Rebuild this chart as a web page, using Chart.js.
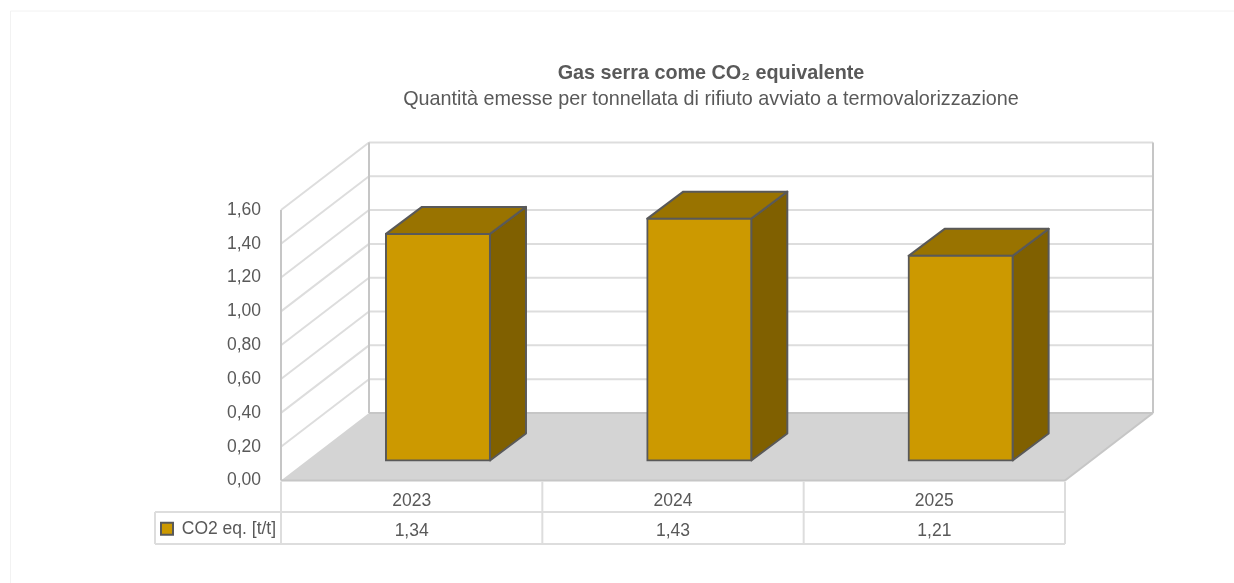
<!DOCTYPE html>
<html>
<head>
<meta charset="utf-8">
<title>Gas serra come CO2 equivalente</title>
<script src="https://cdn.jsdelivr.net/npm/chart.js@4"></script>
<style>
  html, body { margin: 0; padding: 0; background: #fff; }
  canvas { display: block; }
</style>
</head>
<body>
<canvas id="chart" width="1234" height="583"></canvas>
<script>
const years = ['2023', '2024', '2025'];
const co2Values = [1.34, 1.43, 1.21];
const seriesName = 'CO2 eq. [t/t]';
const titleText = 'Gas serra come CO₂ equivalente';
const subtitleText = 'Quantità emesse per tonnellata di rifiuto avviato a termovalorizzazione';

const TEXT = '#595959';
const GRID = '#dddddd';
const EDGE = '#c6c6c6';
const FONT = '"Liberation Sans", Arial, sans-serif';

// oblique offsets of the fake 3D box
const wallDX = 88, wallDY = -67.5;
const barShiftX = 26.3, barShiftY = -20;
const barDX = 36, barDY = -27;

const comma = (v) => v.toFixed(2).replace('.', ',');

function line(ctx, x1, y1, x2, y2, color, width) {
    ctx.beginPath();
    ctx.moveTo(x1, y1);
    ctx.lineTo(x2, y2);
    ctx.strokeStyle = color;
    ctx.lineWidth = width;
    ctx.stroke();
}

function face(ctx, pts, fill) {
    ctx.beginPath();
    pts.forEach((p, i) => (i ? ctx.lineTo(p[0], p[1]) : ctx.moveTo(p[0], p[1])));
    ctx.closePath();
    ctx.fillStyle = fill;
    ctx.fill();
    ctx.strokeStyle = TEXT;
    ctx.lineWidth = 2;
    ctx.lineJoin = 'round';
    ctx.stroke();
}

const box3d = {
    id: 'box3d',
    afterLayout(chart) {
        // titles sit over the whole 3D box, not over the canvas centre
        chart.boxes.forEach((b) => {
            if (b.options && b.options.text && b.isHorizontal()) {
                b.left = 711 - 617;
                b.right = 711 + 617;
            }
        });
        chart.legend.left = 154;
        chart.legend.right = 300;
        chart.legend.top = 513;
        chart.legend.bottom = 544;
    },
    beforeDatasetsDraw(chart) {
        const { ctx, chartArea: a, scales: { y } } = chart;
        ctx.save();
        // frame
        line(ctx, 10.5, 11, 1234, 11, '#f2f2f2', 1);
        line(ctx, 10.5, 11, 10.5, 583, '#f2f2f2', 1);
        // gridlines on the back wall and the side wall
        y.ticks.forEach((t) => {
            const py = y.getPixelForValue(t.value);
            if (t.value > 0) {
                line(ctx, a.left + wallDX, py + wallDY, a.right + wallDX, py + wallDY, GRID, 2);
                line(ctx, a.left, py, a.left + wallDX, py + wallDY, GRID, 2);
            }
        });
        // walls
        line(ctx, a.left, a.top, a.left, a.bottom, EDGE, 2);
        line(ctx, a.left + wallDX, a.top + wallDY, a.left + wallDX, a.bottom + wallDY, EDGE, 2);
        line(ctx, a.right + wallDX, a.top + wallDY, a.right + wallDX, a.bottom + wallDY, EDGE, 2);
        // floor
        ctx.beginPath();
        ctx.moveTo(a.left, a.bottom);
        ctx.lineTo(a.left + wallDX, a.bottom + wallDY);
        ctx.lineTo(a.right + wallDX, a.bottom + wallDY);
        ctx.lineTo(a.right, a.bottom);
        ctx.closePath();
        ctx.fillStyle = '#d4d4d4';
        ctx.fill();
        line(ctx, a.left, a.bottom, a.right, a.bottom, EDGE, 2);
        line(ctx, a.right, a.bottom, a.right + wallDX, a.bottom + wallDY, EDGE, 2);
        line(ctx, a.left + wallDX, a.bottom + wallDY, a.right + wallDX, a.bottom + wallDY, EDGE, 2);
        // data table under the floor
        const x = chart.scales.x;
        const rowTop = 512, rowBottom = 544;
        line(ctx, 155, rowTop, a.right, rowTop, GRID, 2);
        line(ctx, 155, rowBottom, a.right, rowBottom, GRID, 2);
        line(ctx, 155, rowTop, 155, rowBottom, GRID, 2);
        const cell = x.width / years.length;
        for (let i = 0; i <= years.length; i++) {
            line(ctx, a.left + i * cell, a.bottom + 1, a.left + i * cell, rowBottom, GRID, 2);
        }
        ctx.restore();
    },
    beforeDatasetDraw(chart, args) {
        const { ctx } = chart;
        ctx.save();
        ctx.translate(barShiftX, barShiftY);
        args.meta.data.forEach((bar) => {
            const { x, y, base, width } = bar.getProps(['x', 'y', 'base', 'width']);
            const l = x - width / 2, r = x + width / 2;
            face(ctx, [[r, y], [r + barDX, y + barDY], [r + barDX, base + barDY], [r, base]], '#806000');
            face(ctx, [[l, y], [l + barDX, y + barDY], [r + barDX, y + barDY], [r, y]], '#997300');
        });
    },
    afterDatasetDraw(chart) {
        chart.ctx.restore();
    },
};

new Chart(document.getElementById('chart'), {
    type: 'bar',
    data: {
        labels: years,
        datasets: [{
            label: seriesName,
            data: co2Values,
            backgroundColor: '#cc9900',
            borderColor: TEXT,
            borderWidth: 2,
            borderSkipped: false,
            inflateAmount: 1,
            barPercentage: 0.398,
            categoryPercentage: 1,
            clip: false,
        }],
    },
    options: {
        responsive: false,
        animation: false,
        events: [],
        layout: { padding: { left: 0, right: 169, top: 0, bottom: 0 } },
        plugins: {
            title: {
                display: true,
                text: titleText,
                color: TEXT,
                font: { family: FONT, size: 19.8, weight: 'bold', lineHeight: 1.2 },
                padding: { top: 62, bottom: 0 },
            },
            subtitle: {
                display: true,
                text: subtitleText,
                color: TEXT,
                font: { family: FONT, size: 19.8, weight: 'normal', lineHeight: 1.2 },
                padding: { top: 2.3, bottom: 98.1 },
            },
            legend: {
                position: 'bottom',
                align: 'start',
                labels: {
                    color: TEXT,
                    font: { family: FONT, size: 17.5 },
                    boxWidth: 12,
                    boxHeight: 12,
                    padding: 7,
                },
            },
            tooltip: { enabled: false },
        },
        scales: {
            x: {
                grid: { display: false },
                border: { display: false },
                offset: true,
                afterFit(scale) { scale.height = 68; },
                ticks: {
                    color: TEXT,
                    padding: -2,
                    maxRotation: 0,
                    font: { family: FONT, size: 17.5, lineHeight: 1.72 },
                    callback(value, index) {
                        return [years[index], comma(co2Values[index])];
                    },
                },
            },
            y: {
                min: 0,
                max: 1.6,
                grid: { display: false, drawTicks: false },
                border: { display: false },
                afterFit(scale) { scale.width = 281; },
                ticks: {
                    stepSize: 0.2,
                    color: TEXT,
                    padding: 20,
                    font: { family: FONT, size: 17.5 },
                    callback: (v) => comma(v),
                },
            },
        },
    },
    plugins: [box3d],
});
</script>
</body>
</html>
